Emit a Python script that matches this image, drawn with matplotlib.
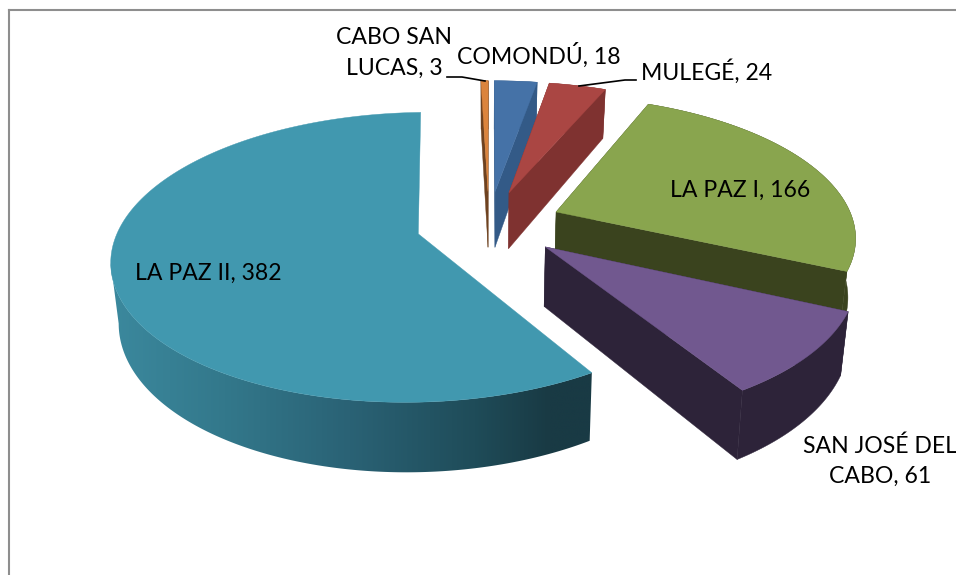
import numpy as np
import matplotlib
matplotlib.use("Agg")
import matplotlib.pyplot as plt
from matplotlib.patches import Polygon
from matplotlib.colors import LinearSegmentedColormap

plt.rcParams['font.family'] = ['Lato', 'DejaVu Sans']

categories = ["COMONDÚ", "MULEGÉ", "LA PAZ I", "SAN JOSÉ DEL CABO", "LA PAZ II", "CABO SAN LUCAS"]
values = [18, 24, 166, 61, 382, 3]
top_colors = ["#4572a7", "#aa4643", "#89a54e", "#71588f", "#4198af", "#db843d"]
wall_colors = ["#335a87", "#7f3230", "#3a431e", "#2d2339", None, "#6e4220"]
label_text = ["COMONDÚ, 18", "MULEGÉ, 24", "LA PAZ I, 166", "SAN JOSÉ DEL\nCABO, 61", "LA PAZ II, 382", "CABO SAN\nLUCAS, 3"]
label_pos = [(539, 55), (707, 72), (740, 190), (880, 461), (208, 273), (394, 53)]

START = 0.0
EXPLODE = 0.245
CX, CY, RX, RY, P, D, SZ = 489, 224, 298, 138, 0.16, 58, 0.021


def proj(u, v, z=0.0):
    u, v = np.asarray(u, float), np.asarray(v, float)
    w = 1 + P * v
    return CX + RX * u / w * (1 - SZ * z), CY - RY * v / w + D * z / w


fig = plt.figure(figsize=(9.56, 5.75), dpi=100)
ax = fig.add_axes([0, 0, 1, 1])
ax.axis("off")

ax.plot([9.5, 9.5], [575, 10], color="#8e8e8e", lw=1.5, solid_capstyle="projecting")
ax.plot([9.5, 956], [10, 10], color="#8e8e8e", lw=1.5)

shares = np.array(values, float) / sum(values) * 360
ends = START + np.cumsum(shares)
starts = ends - shares
order = [5, 0, 1, 2, 3, 4]
grad = LinearSegmentedColormap.from_list("wall", [(0, "#3c8a9f"), (0.25, "#33788b"), (0.5, "#2a6275"),
                                                  (0.75, "#1f4c59"), (0.9, "#193a44"), (1, "#193a44")])
for i in order:
    z = 2 + order.index(i)
    a0, a1 = np.radians(starts[i]), np.radians(ends[i])
    b = (a0 + a1) / 2
    ou, ov = EXPLODE * np.sin(b), EXPLODE * np.cos(b)
    th = np.linspace(a0, a1, max(int(shares[i] * 2), 6))
    ru, rv = ou + np.sin(th), ov + np.cos(th)
    wall = wall_colors[i]
    if wall is not None:
        for t in (a0, a1):
            eu, ev = ou + np.sin(t), ov + np.cos(t)
            pts = [proj(ou, ov, 0), proj(eu, ev, 0), proj(eu, ev, 1), proj(ou, ov, 1)]
            ax.add_patch(Polygon([(float(x), float(y)) for x, y in pts], fc=wall, ec=wall, lw=0.3, zorder=z))
    x0, y0 = proj(ru, rv, 0)
    x1, y1 = proj(ru, rv, 1)
    if wall is None:
        # the wall stops at the left silhouette of the disc
        cut = int(np.argmin(x0)) + 1
        x0, y0, x1, y1 = x0[:cut], y0[:cut], x1[:cut], y1[:cut]
    outline = np.c_[np.r_[x0, x1[::-1]], np.r_[y0, y1[::-1]]]
    if wall is None:
        clip = Polygon(outline, fc="none", ec="none", transform=ax.transData)
        ax.add_patch(clip)
        im = ax.imshow(np.linspace(0, 1, 512)[None, :], cmap=grad, aspect="auto",
                       extent=(100, 600, 500, 200), zorder=z, interpolation="bilinear")
        im.set_clip_path(clip)
    else:
        ax.add_patch(Polygon(outline, fc=wall, ec=wall, lw=0.3, zorder=z))
    xt, yt = proj(np.r_[ou, ru], np.r_[ov, rv], 0)
    ax.add_patch(Polygon(np.c_[xt, yt], fc=top_colors[i], ec=top_colors[i], lw=0.3, zorder=z + 0.5))

ax.set_xlim(0, 956)
ax.set_ylim(575, 0)

# leader lines
ax.plot([447, 462, 485], [77, 77, 81], color="black", lw=1.2, zorder=20)
ax.plot([579, 625, 636], [86, 80, 80], color="black", lw=1.2, zorder=20)

for txt, (x, y) in zip(label_text, label_pos):
    ax.text(x, y, txt, ha="center", va="center", fontsize=16.6, color="black", linespacing=1.55, zorder=30)

fig.savefig("out.png", dpi=100)
